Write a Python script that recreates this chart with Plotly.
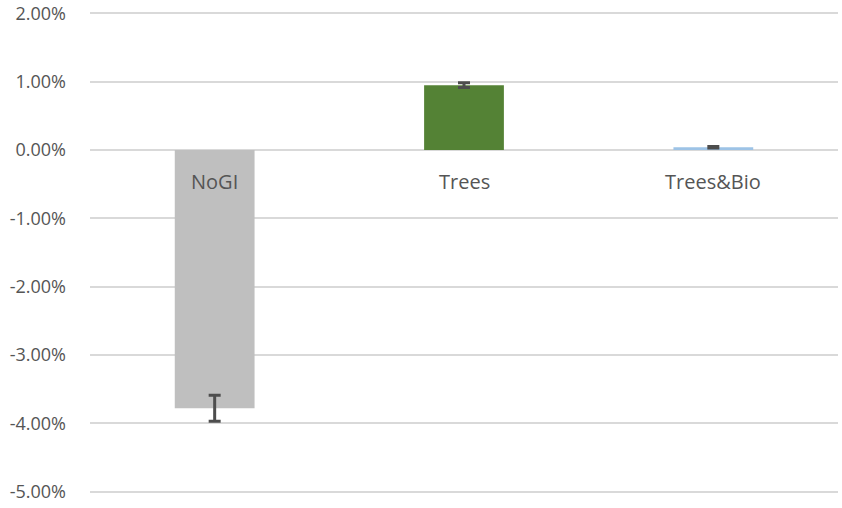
import plotly.graph_objects as go

categories = ["NoGI", "Trees", "Trees&Bio"]
values = [-3.78, 0.95, 0.04]
errors = [0.19, 0.035, 0.01]
bar_colors = ["#BFBFBF", "#548235", "#9DC3E6"]

tick_vals = [2, 1, 0, -1, -2, -3, -4, -5]
tick_text = ["%.2f%%" % v for v in tick_vals]

fig = go.Figure()
fig.add_trace(go.Bar(
    x=categories,
    y=values,
    width=0.32,
    marker=dict(color=bar_colors, line=dict(width=0)),
    error_y=dict(type="data", array=errors, visible=True,
                 color="#4D4D4D", thickness=3, width=6),
))

# category labels sit just under the zero line, like Excel's axis labels
for cat in categories:
    fig.add_annotation(x=cat, y=0, text=cat, showarrow=False,
                       yanchor="top", yshift=-16,
                       font=dict(family="Open Sans", size=20, color="#555555"))

fig.update_layout(
    width=842, height=508,
    margin=dict(l=90, r=4, t=10, b=13),
    plot_bgcolor="white", paper_bgcolor="white",
    showlegend=False,
)
fig.update_xaxes(showticklabels=False, showgrid=False, showline=False,
                 zeroline=False, automargin=False)
fig.update_yaxes(
    range=[-5.05, 2.05], tickvals=tick_vals, ticktext=tick_text,
    showgrid=True, gridcolor="#D9D9D9", gridwidth=2,
    zeroline=True, zerolinecolor="#D9D9D9", zerolinewidth=2,
    ticks="", ticklabelstandoff=23, automargin=False,
    tickfont=dict(family="Open Sans", size=18, color="#555555"),
)

# drop the browser's default body margin so the figure fills the window
fig.write_html("out.html", config={"displayModeBar": False},
               post_script="document.body.style.margin='0';")
